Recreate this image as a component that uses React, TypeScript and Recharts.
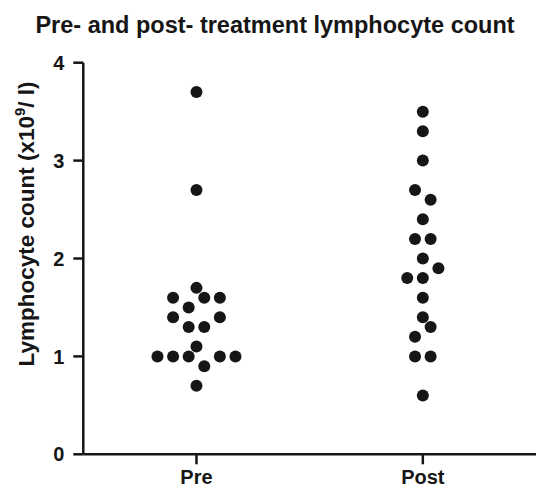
import React from "react";
import { ScatterChart, Scatter, XAxis, YAxis } from "recharts";

// ---- data ----
const groupLabels = ["Pre", "Post"];
const groupPositions = [1, 2];
const preValues = [3.7, 2.7, 1.7, 1.6, 1.5, 1.6, 1.6, 1.4, 1.3, 1.3, 1.4, 1.1, 1.0, 1.0, 1.0, 0.9, 1.0, 1.0, 0.7];
const postValues = [3.5, 3.3, 3.0, 2.7, 2.6, 2.4, 2.2, 2.2, 2.0, 1.8, 1.8, 1.9, 1.6, 1.4, 1.2, 1.3, 1.0, 1.0, 0.6];
const yTicks = [0, 1, 2, 3, 4];

const titleText = "Pre- and post- treatment lymphocyte count";

// ---- layout ----
const W = 538;
const H = 488;
const Y_AXIS_W = 60;
const X_AXIS_H = 30;
const M = { top: 62.7, right: 2, bottom: 33.7 - X_AXIS_H, left: 83.3 - Y_AXIS_W };
const Y_MAX = 4;
const PLOT_H = H - 62.7 - 33.7;
const PX_PER_UNIT = PLOT_H / Y_MAX;
const R = 6;
const SLOT = 15.6;
const FONT = "'Liberation Sans', Arial, Helvetica, sans-serif";
const INK = "#161616";

// beeswarm-like layout: values closer than one dot diameter share a row,
// spread evenly around the group centre in data order.
function swarm(values: number[], groupPos: number) {
  const order = values.map((_, i) => i).sort((a, b) => values[a] - values[b] || a - b);
  const bins: number[][] = [];
  let cur: number[] | null = null;
  for (const i of order) {
    if (!cur || (values[i] - values[cur[0]]) * PX_PER_UNIT >= 2 * R) {
      cur = [i];
      bins.push(cur);
    } else {
      cur.push(i);
    }
  }
  const dx = new Array(values.length).fill(0);
  bins.forEach((b) => {
    const s = [...b].sort((a, c) => a - c);
    s.forEach((idx, k) => {
      dx[idx] = (k - (s.length - 1) / 2) * SLOT;
    });
  });
  return values.map((v, i) => ({ x: groupPos, y: v, dx: dx[i] }));
}

const preData = swarm(preValues, groupPositions[0]);
const postData = swarm(postValues, groupPositions[1]);

const Dot = (props: any) => {
  const { cx, cy, payload } = props;
  if (cx == null || cy == null) return null;
  return <circle cx={cx + (payload?.dx || 0)} cy={cy} r={R} fill={INK} />;
};

const YLabel = () => {
  const x = 34;
  const y = 224;
  return (
    <text
      x={x}
      y={y}
      transform={`rotate(-90, ${x}, ${y})`}
      textAnchor="middle"
      fontFamily={FONT}
      fontWeight="bold"
      fontSize={22.5}
      fill={INK}
    >
      <tspan>Lymphocyte count (x10</tspan>
      <tspan dy={-9} fontSize={15}>9</tspan>
      <tspan dy={9}>/ l)</tspan>
    </text>
  );
};

export default function App() {
  return (
    <div style={{ position: "absolute", left: 0, top: 0, width: W, height: H, background: "#fff" }}>
      <div
        style={{
          position: "absolute",
          left: 0,
          top: 13.2,
          width: 550,
          textAlign: "center",
          fontFamily: FONT,
          fontWeight: "bold",
          fontSize: 23.5,
          lineHeight: "24px",
          color: INK,
          whiteSpace: "nowrap",
        }}
      >
        {titleText}
      </div>
      <ScatterChart width={W} height={H} margin={M}>
        <XAxis
          type="number"
          dataKey="x"
          domain={[0.5, 2.5]}
          ticks={groupPositions}
          tickFormatter={(v: number) => groupLabels[groupPositions.indexOf(v)] ?? ""}
          height={X_AXIS_H}
          tickSize={10}
          tickMargin={5.7}
          axisLine={{ stroke: INK, strokeWidth: 2.5 }}
          tickLine={{ stroke: INK, strokeWidth: 2.5 }}
          tick={{ fill: INK, fontSize: 20, fontWeight: "bold", fontFamily: FONT }}
          allowDataOverflow
        />
        <YAxis
          type="number"
          dataKey="y"
          domain={[0, Y_MAX]}
          ticks={yTicks}
          width={Y_AXIS_W}
          tickSize={10}
          tickMargin={9}
          axisLine={{ stroke: INK, strokeWidth: 2.5 }}
          tickLine={{ stroke: INK, strokeWidth: 2.5 }}
          tick={{ fill: INK, fontSize: 20, fontWeight: "bold", fontFamily: FONT }}
          label={<YLabel />}
          allowDataOverflow
        />
        <Scatter data={preData} shape={<Dot />} isAnimationActive={false} />
        <Scatter data={postData} shape={<Dot />} isAnimationActive={false} />
      </ScatterChart>
    </div>
  );
}
